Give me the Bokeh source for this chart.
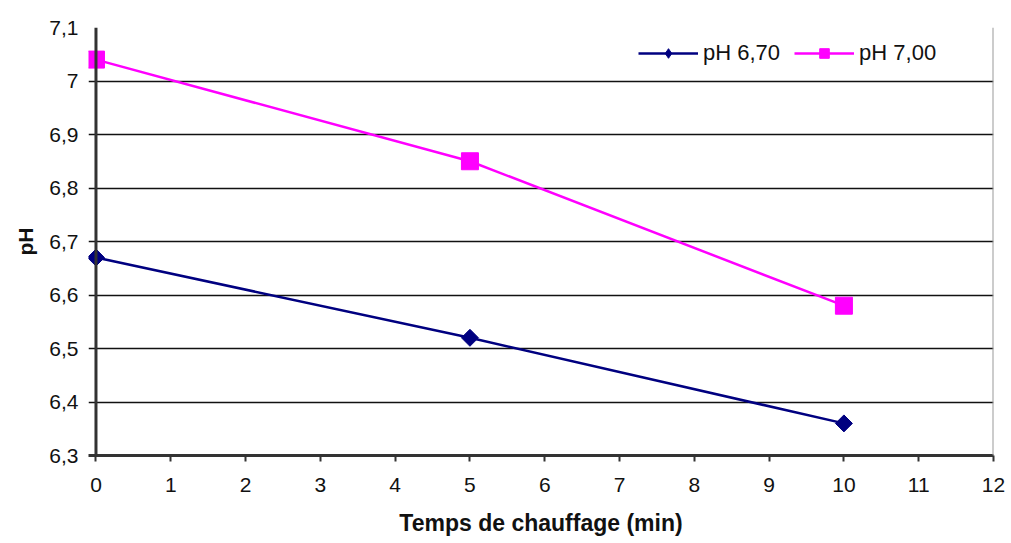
import math
from bokeh.plotting import figure
from bokeh.models import FixedTicker, CustomJSTickFormatter, Range1d, Legend, LegendItem, Span
from bokeh.embed import file_html
from bokeh.resources import INLINE

time_min = [0, 5, 10]
ph_670 = [6.67, 6.52, 6.36]
ph_700 = [7.04, 6.85, 6.58]
series_names = ["pH 6,70", "pH 7,00"]
x_ticks = list(range(0, 13))
y_ticks = [6.3, 6.4, 6.5, 6.6, 6.7, 6.8, 6.9, 7.0, 7.1]

# frame starts slightly left of x=0 so end markers are not clipped;
# the grid lines crossing that strip look like outward ticks
p = figure(width=1011, height=543, output_backend="svg", toolbar_location=None,
           x_range=Range1d(-0.1, 12), y_range=Range1d(6.3, 7.1),
           min_border_left=88, min_border_right=18, min_border_top=27, min_border_bottom=88)
p.background_fill_color = "white"
p.border_fill_color = "white"
p.outline_line_color = None

font = "Liberation Sans"
for ax in (p.xaxis[0], p.yaxis[0]):
    ax.axis_line_color = "#333333"
    ax.axis_line_width = 3
    ax.major_tick_line_color = "#333333"
    ax.major_tick_line_width = 2
    ax.major_tick_in = 0
    ax.major_tick_out = 6
    ax.minor_tick_line_color = None
    ax.major_label_text_font = font
    ax.major_label_text_font_size = "21px"
    ax.major_label_text_color = "#111111"
    ax.axis_label_text_font = font
    ax.axis_label_text_font_style = "bold"
    ax.axis_label_text_font_size = "23px"
    ax.axis_label_text_color = "#111111"

p.yaxis.axis_line_color = None
p.yaxis.major_tick_out = 0
p.yaxis.major_tick_line_color = None

p.xaxis.ticker = FixedTicker(ticks=x_ticks)
p.yaxis.ticker = FixedTicker(ticks=y_ticks)
p.yaxis.formatter = CustomJSTickFormatter(code="""
    const v = Math.round(tick * 10) / 10;
    return v.toString().replace('.', ',');
""")
p.xaxis.major_label_standoff = 16
p.yaxis.major_label_standoff = 10
p.xaxis.axis_label = "Temps de chauffage (min)"
p.yaxis.axis_label = "pH"
p.xaxis.axis_label_standoff = 15
p.yaxis.axis_label_standoff = 9
p.yaxis.axis_label_text_font_size = "21px"

p.xgrid.grid_line_color = None
p.ygrid.grid_line_color = "#111111"
p.ygrid.grid_line_width = 1.5

# vertical axis line at x = 0 and right border
p.add_layout(Span(location=0, dimension="height", line_color="#333333", line_width=3))
p.add_layout(Span(location=12, dimension="height", line_color="#999999", line_width=2))

l1 = p.line(time_min, ph_670, line_color="#000080", line_width=2.5)
m1 = p.scatter(time_min, ph_670, marker="square", angle=math.pi / 4, size=12,
               fill_color="#000080", line_color="#000080")
l2 = p.line(time_min, ph_700, line_color="#FF00FF", line_width=2.5)
m2 = p.scatter(time_min, ph_700, marker="square", size=17, fill_color="#FF00FF", line_color="#FF00FF")

# legend-only diamond key (the legend does not rotate markers); NaN = no mark on the plot
m1_key = p.scatter(x=[float("nan")], y=[float("nan")], marker="diamond", size=19,
                   fill_color="#000080", line_color="#000080")

legend = Legend(items=[LegendItem(label=series_names[0], renderers=[l1, m1_key]),
                       LegendItem(label=series_names[1], renderers=[l2, m2])],
                location=(550, 389), orientation="horizontal")
legend.label_text_font = font
legend.label_text_font_size = "22px"
legend.label_text_color = "#111111"
legend.glyph_width = 60
legend.glyph_height = 24
legend.label_standoff = 5
legend.spacing = 14
legend.border_line_color = None
legend.background_fill_color = "white"
legend.background_fill_alpha = 1
legend.margin = 0
legend.padding = 6
legend.label_height = 24
p.add_layout(legend)

open("out.html", "w").write(file_html(p, INLINE))
